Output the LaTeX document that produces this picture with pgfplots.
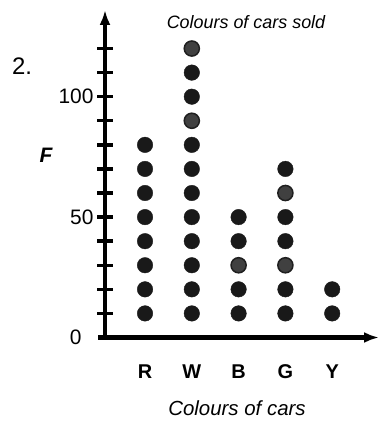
\documentclass[border=0pt]{standalone}
\usepackage{pgfplots}
\pgfplotsset{compat=1.18}
\usetikzlibrary{arrows.meta}
\usepackage{fontspec}
\setmainfont{Liberation Sans}
\begin{document}
\begin{tikzpicture}[x=1bp,y=1bp]
\useasboundingbox (0,0) rectangle (379,430);
\begin{axis}[
  at={(105bp,92.5bp)}, anchor=south west,
  scale only axis, width=274bp, height=327.5bp,
  xmin=0.145, xmax=6.0, ymin=0, ymax=136,
  axis lines=left,
  every outer x axis line/.append style={line width=4.2bp, -{Latex[length=15bp,width=11bp]}},
  every outer y axis line/.append style={line width=4.2bp, -{Latex[length=15bp,width=11bp]}},
  xtick={1,2,3,4,5},
  xticklabels={R,W,B,G,Y},
  xtick style={draw=none},
  ytick style={line width=3.4bp, black},
  xticklabel style={font=\fontsize{20}{20}\selectfont\bfseries, anchor=center, yshift=-26bp},
  ytick={10,20,...,120},
  yticklabels={,,,,50,,,,,100,,},
  tick align=center,
  major tick length=16bp,
  yticklabel style={font=\fontsize{21}{22}\selectfont, anchor=east, xshift=0bp},
  /pgf/number format/assume math mode=true,
  clip=false,
]
\draw[line width=4.2bp] (axis cs:0.0,0) -- (axis cs:0.2,0);
\addplot[only marks, mark=*, mark size=7.8pt, mark options={fill=black!90, draw=black!90}] coordinates {
 (1,10) (1,20) (1,30) (1,40) (1,50) (1,60) (1,70) (1,80)
 (2,10) (2,20) (2,30) (2,40) (2,50) (2,60) (2,70) (2,80) (2,100) (2,110)
 (3,10) (3,20) (3,40) (3,50)
 (4,10) (4,20) (4,40) (4,50) (4,70)
 (5,10) (5,20)
};
\addplot[only marks, mark=*, mark size=7.6pt, mark options={fill=black!75, draw=black!88, line width=1.5bp}] coordinates {
 (2,90) (2,120) (3,30) (4,30) (4,60)
};
\node[font=\fontsize{21}{22}\selectfont, anchor=east] at (axis cs:0.145,0) [xshift=-20bp] {0};
\end{axis}
\node[font=\fontsize{18}{20}\selectfont\itshape] at (246,408) {Colours of cars sold};
\node[font=\fontsize{20.5}{22}\selectfont\itshape] at (237,22) {Colours of cars};
\node[font=\fontsize{21}{22}\selectfont\bfseries\itshape] at (46,275) {F};
\node[font=\fontsize{24}{24}\selectfont] at (22,364) {2.};
\end{tikzpicture}
\end{document}
